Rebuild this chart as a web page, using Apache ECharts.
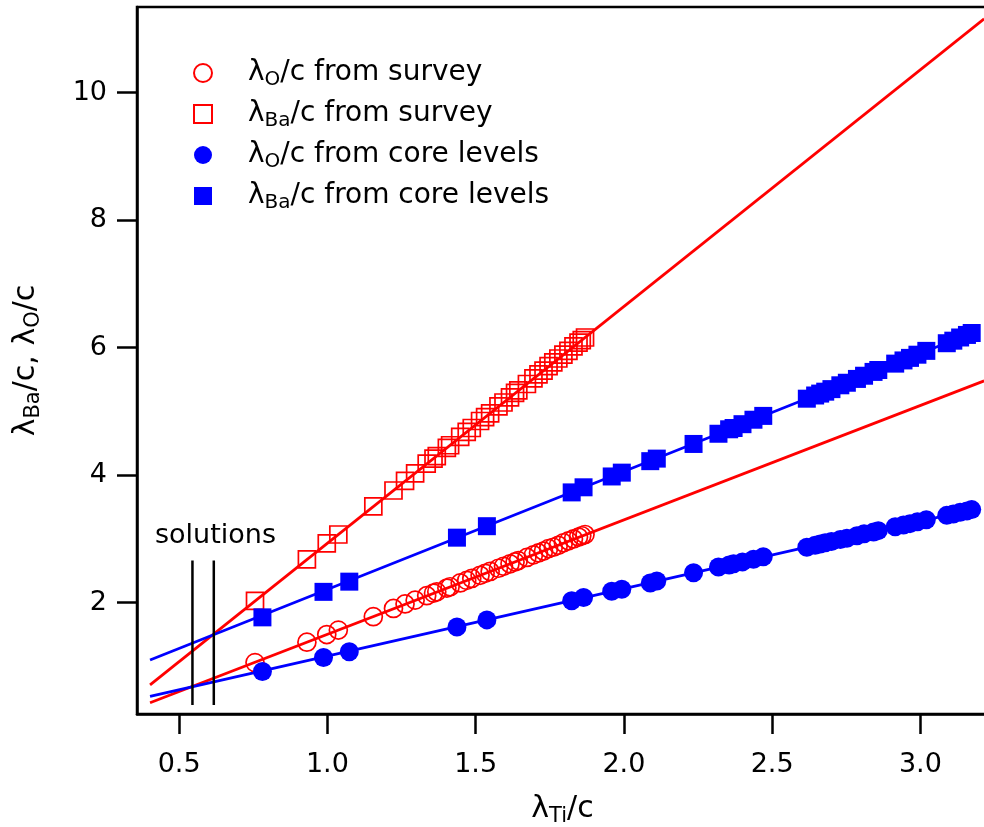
<!DOCTYPE html>
<html>
<head>
<meta charset="utf-8">
<script src="https://cdn.jsdelivr.net/npm/echarts@6/dist/echarts.min.js"></script>
<style>
  html, body { margin: 0; padding: 0; background: #fff; }
  #chart { width: 984px; height: 827px; }
</style>
</head>
<body>
<div id="chart"></div>
<script>
// survey data (red, open markers)
const surveyX = [0.756, 0.931, 0.998, 1.037, 1.155, 1.223, 1.262, 1.296, 1.335, 1.358, 1.369, 1.403, 1.414,
  1.448, 1.470, 1.487, 1.515, 1.532, 1.549, 1.577, 1.594, 1.616, 1.633, 1.644, 1.673, 1.695, 1.712, 1.729,
  1.746, 1.762, 1.779, 1.796, 1.813, 1.830, 1.847, 1.858, 1.869];
const surveyO = [1.06, 1.38, 1.50, 1.57, 1.78, 1.91, 1.98, 2.04, 2.11, 2.15, 2.17, 2.23, 2.25,
  2.31, 2.35, 2.38, 2.43, 2.46, 2.49, 2.54, 2.57, 2.61, 2.64, 2.66, 2.71, 2.75, 2.78, 2.81,
  2.85, 2.87, 2.90, 2.94, 2.97, 3.00, 3.03, 3.05, 3.07];
const surveyBa = [2.03, 2.68, 2.93, 3.07, 3.51, 3.76, 3.91, 4.03, 4.18, 4.26, 4.30, 4.43, 4.47,
  4.60, 4.68, 4.74, 4.85, 4.91, 4.97, 5.08, 5.14, 5.22, 5.29, 5.33, 5.43, 5.52, 5.58, 5.64,
  5.71, 5.77, 5.83, 5.89, 5.95, 6.02, 6.08, 6.12, 6.16];

// core level data (blue, filled markers)
const coreX = [0.781, 0.987, 1.074, 1.437, 1.538, 1.824, 1.864, 1.959, 1.993, 2.089, 2.111, 2.235, 2.319,
  2.355, 2.370, 2.400, 2.437, 2.470, 2.617, 2.645, 2.662, 2.679, 2.700, 2.730, 2.752, 2.786, 2.810,
  2.842, 2.858, 2.915, 2.943, 2.965, 2.990, 3.020, 3.089, 3.111, 3.134, 3.157, 3.173];
const coreO = [0.92, 1.14, 1.23, 1.62, 1.73, 2.03, 2.08, 2.18, 2.21, 2.31, 2.34, 2.47, 2.56,
  2.59, 2.61, 2.64, 2.68, 2.72, 2.87, 2.90, 2.92, 2.94, 2.96, 2.99, 3.01, 3.05, 3.08,
  3.11, 3.13, 3.19, 3.22, 3.24, 3.27, 3.30, 3.37, 3.39, 3.42, 3.44, 3.46];
const coreBa = [1.77, 2.17, 2.33, 3.02, 3.20, 3.73, 3.81, 3.98, 4.04, 4.22, 4.26, 4.49, 4.65,
  4.72, 4.74, 4.80, 4.87, 4.93, 5.20, 5.25, 5.28, 5.31, 5.35, 5.41, 5.45, 5.51, 5.56,
  5.62, 5.65, 5.75, 5.80, 5.84, 5.89, 5.95, 6.07, 6.11, 6.16, 6.20, 6.23];

// fitted lines (end points)
const fitRedBaX = [0.402, 3.215], fitRedBaY = [0.71, 11.16];
const fitRedOX = [0.402, 3.215], fitRedOY = [0.43, 5.48];
const fitBlueBaX = [0.402, 3.173], fitBlueBaY = [1.10, 6.23];
const fitBlueOX = [0.402, 3.173], fitBlueOY = [0.53, 3.46];

// "solutions" markers
const sol1X = [0.545, 0.545], sol2X = [0.617, 0.617], solY = [0.395, 2.66];

const xTicks = [0.5, 1.0, 1.5, 2.0, 2.5, 3.0];
const yTicks = [2, 4, 6, 8, 10];

const names = ['λO/c from survey', 'λBa/c from survey', 'λO/c from core levels', 'λBa/c from core levels'];

const colors = { red: '#ff0000', blue: '#0000ff', black: '#000000' };
const FONT = '"DejaVu Sans", Verdana, sans-serif';

const zip = (xs, ys) => xs.map((x, i) => [x, ys[i]]);

// turn "λBa/c ..." into rich text with subscripts
function subRich(str, lead) {
  let out = lead ? '{gap|}' : '';
  const re = /λ([A-Za-z]+)/g;
  let last = 0, m;
  while ((m = re.exec(str)) !== null) {
    if (m.index > last) out += '{n|' + str.slice(last, m.index) + '}';
    out += '{n|λ}{s|' + m[1] + '}';
    last = re.lastIndex;
  }
  if (last < str.length) out += '{n|' + str.slice(last) + '}';
  return out;
}

function richStyles(size, sub, pad) {
  return {
    gap: { width: 31 },
    n: { fontSize: size, fontFamily: FONT, color: '#000', lineHeight: 34 },
    s: { fontSize: sub, fontFamily: FONT, color: '#000', padding: [pad, 0, 0, 0], lineHeight: 34 }
  };
}

const chart = echarts.init(document.getElementById('chart'));

function fitLine(xs, ys, color, w) {
  return {
    type: 'line', data: zip(xs, ys), showSymbol: false, symbol: 'none', silent: true,
    lineStyle: { color: color, width: w || 2.8 }, z: 2
  };
}

chart.setOption({
  backgroundColor: '#fff',
  animation: false,
  grid: {
    left: 137, top: 7, right: -4, bottom: 113,
    containLabel: false, outerBoundsMode: 'none',
    show: true, borderColor: colors.black, borderWidth: 2.5
  },
  legend: {
    orient: 'vertical', left: 193, top: 56, padding: 0,
    itemWidth: 18, itemHeight: 18, itemGap: 7,
    data: names,
    formatter: name => subRich(name, true),
    textStyle: { rich: richStyles(28, 20, 14) }
  },
  graphic: [{
    type: 'text', left: 155, top: 522,
    style: { text: 'solutions', fontSize: 27, fontFamily: FONT, fill: '#000' }
  }],
  xAxis: {
    type: 'value', min: 0.358, max: 3.228,
    name: subRich('λTi/c'), nameLocation: 'middle', nameGap: 78,
    nameTextStyle: { rich: richStyles(30, 21, 15) },
    axisLine: { show: true, lineStyle: { color: colors.black, width: 2.5 } },
    axisTick: { show: true, inside: false, length: 20, customValues: xTicks, lineStyle: { color: colors.black, width: 2.5 } },
    axisLabel: { customValues: xTicks, margin: 37, fontSize: 27, fontFamily: FONT, color: '#000', formatter: v => v.toFixed(1) },
    splitLine: { show: false }
  },
  yAxis: {
    type: 'value', min: 0.254, max: 11.344,
    name: subRich('λBa/c, λO/c'), nameLocation: 'middle', nameGap: 94, nameRotate: 90,
    nameTextStyle: { rich: richStyles(30, 21, 15) },
    axisLine: { show: true, lineStyle: { color: colors.black, width: 2.5 } },
    axisTick: { show: true, inside: false, length: 20, customValues: yTicks, lineStyle: { color: colors.black, width: 2.5 } },
    axisLabel: { customValues: yTicks, margin: 30, fontSize: 27, fontFamily: FONT, color: '#000' },
    splitLine: { show: false }
  },
  series: [
    fitLine(fitRedBaX, fitRedBaY, colors.red),
    fitLine(fitRedOX, fitRedOY, colors.red),
    fitLine(fitBlueBaX, fitBlueBaY, colors.blue),
    fitLine(fitBlueOX, fitBlueOY, colors.blue),
    fitLine(sol1X, solY, colors.black, 2.5),
    fitLine(sol2X, solY, colors.black, 2.5),
    {
      name: names[0], type: 'scatter', data: zip(surveyX, surveyO), symbol: 'circle', symbolSize: 18, z: 3,
      itemStyle: { color: 'rgba(0,0,0,0)', borderColor: colors.red, borderWidth: 1.7, opacity: 1 }
    },
    {
      name: names[1], type: 'scatter', data: zip(surveyX, surveyBa), symbol: 'rect', symbolSize: 17, z: 3,
      itemStyle: { color: 'rgba(0,0,0,0)', borderColor: colors.red, borderWidth: 1.7, opacity: 1 }
    },
    {
      name: names[2], type: 'scatter', data: zip(coreX, coreO), symbol: 'circle', symbolSize: 19, z: 3,
      itemStyle: { color: colors.blue, opacity: 1 }
    },
    {
      name: names[3], type: 'scatter', data: zip(coreX, coreBa), symbol: 'rect', symbolSize: 18, z: 3,
      itemStyle: { color: colors.blue, opacity: 1 }
    }
  ]
});
</script>
</body>
</html>
